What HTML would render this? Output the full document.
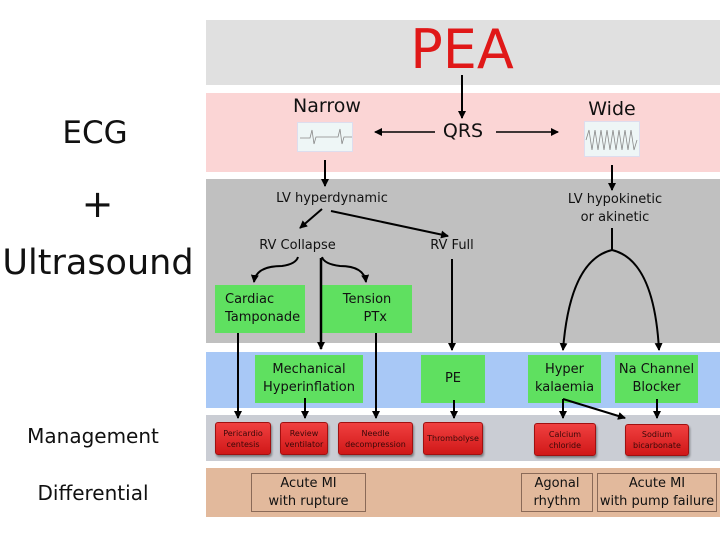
<!DOCTYPE html>
<html><head><meta charset="utf-8"><style>
body{margin:0;width:720px;height:540px;background:#fff;position:relative;overflow:hidden;font-family:"DejaVu Sans","Liberation Sans",sans-serif;}
div{position:absolute;box-sizing:border-box;}
.t{white-space:nowrap;text-align:center;color:#111;}
.g{background:#5fe060;display:flex;align-items:center;justify-content:center;text-align:center;font-size:13px;line-height:18px;color:#111;}
.r{background:linear-gradient(#f04040,#d01818);border:1px solid #a01010;border-radius:3px;box-shadow:1px 2px 2px rgba(0,0,0,.4);display:flex;align-items:center;justify-content:center;text-align:center;font-size:8px;line-height:11px;color:#3a0808;}
.d{border:1px solid #8a6a58;display:flex;align-items:center;justify-content:center;text-align:center;font-size:13px;line-height:18px;color:#111;}
</style></head><body>
<div style="left:206px;top:20px;width:514px;height:65px;background:#e0e0e0"></div>
<div style="left:206px;top:93px;width:514px;height:79px;background:#fbd5d5"></div>
<div style="left:206px;top:179px;width:514px;height:164px;background:#c0c0c0"></div>
<div style="left:206px;top:352px;width:514px;height:56px;background:#a8c8f6"></div>
<div style="left:206px;top:415px;width:514px;height:46px;background:#cacdd4"></div>
<div style="left:206px;top:468px;width:514px;height:49px;background:#e2b99c"></div>

<div class="t" style="left:396px;top:18px;width:132px;font-size:54px;color:#e01818;line-height:64px">PEA</div>
<div class="t" style="left:20px;top:113px;width:150px;font-size:31px;line-height:40px">ECG</div>
<div class="t" style="left:60px;top:182px;width:75px;font-size:38px;line-height:44px">+</div>
<div class="t" style="left:0px;top:241px;width:196px;font-size:35px;line-height:44px">Ultrasound</div>
<div class="t" style="left:18px;top:424px;width:150px;font-size:20px;line-height:24px">Management</div>
<div class="t" style="left:18px;top:481px;width:150px;font-size:20px;line-height:24px">Differential</div>

<div class="t" style="left:280px;top:95px;width:94px;font-size:19px">Narrow</div>
<div class="t" style="left:570px;top:98px;width:84px;font-size:19px">Wide</div>
<div class="t" style="left:430px;top:120px;width:66px;font-size:19px">QRS</div>
<div style="left:297px;top:122px;width:56px;height:30px;background:#eef6f6;border:1px solid #dde"></div>
<div style="left:584px;top:121px;width:56px;height:36px;background:#eef6f6;border:1px solid #dde"></div>

<div class="t" style="left:262px;top:191px;width:140px;font-size:13px">LV hyperdynamic</div>
<div class="t" style="left:550px;top:191px;width:130px;font-size:13px;line-height:18px">LV hypokinetic<br>or akinetic</div>
<div class="t" style="left:245px;top:238px;width:105px;font-size:13px">RV Collapse</div>
<div class="t" style="left:418px;top:238px;width:68px;font-size:13px">RV Full</div>

<div class="g" style="left:215px;top:285px;width:90px;height:48px;justify-content:flex-start;padding-left:10px;text-align:left">Cardiac<br>Tamponade</div>
<div class="g" style="left:322px;top:285px;width:90px;height:48px">Tension<br>&nbsp;&nbsp;&nbsp;&nbsp;PTx</div>
<div class="g" style="left:255px;top:355px;width:108px;height:48px">Mechanical<br>Hyperinflation</div>
<div class="g" style="left:421px;top:355px;width:64px;height:48px">PE</div>
<div class="g" style="left:528px;top:355px;width:73px;height:48px">Hyper<br>kalaemia</div>
<div class="g" style="left:615px;top:355px;width:83px;height:48px">Na Channel<br>Blocker</div>

<div class="r" style="left:215px;top:422px;width:56px;height:33px">Pericardio<br>centesis</div>
<div class="r" style="left:280px;top:422px;width:48px;height:33px">Review<br>ventilator</div>
<div class="r" style="left:338px;top:422px;width:75px;height:33px">Needle<br>decompression</div>
<div class="r" style="left:423px;top:422px;width:60px;height:33px">Thrombolyse</div>
<div class="r" style="left:534px;top:423px;width:62px;height:33px">Calcium<br>chloride</div>
<div class="r" style="left:625px;top:424px;width:64px;height:32px">Sodium<br>bicarbonate</div>

<div class="d" style="left:251px;top:473px;width:115px;height:39px">Acute MI<br>with rupture</div>
<div class="d" style="left:521px;top:473px;width:72px;height:39px">Agonal<br>rhythm</div>
<div class="d" style="left:597px;top:473px;width:120px;height:39px">Acute MI<br>with pump failure</div>

<svg width="720" height="540" style="position:absolute;left:0;top:0" fill="none" stroke="#000" stroke-width="2">
<defs><marker id="a" markerWidth="8" markerHeight="8" refX="7" refY="4" orient="auto" markerUnits="userSpaceOnUse"><path d="M0,0 L8,4 L0,8z" fill="#000" stroke="none"/></marker></defs>
<path d="M300,138 H310 L312,130 L314,144 L316,137 H338 L340,129 L342,144 L344,137 H352" stroke="#888" stroke-width="0.8"/>
<path d="M586,140 l3,-10 l3,20 l3,-20 l3,20 l3,-20 l3,20 l3,-20 l3,20 l3,-20 l3,20 l3,-20 l3,20 l3,-20 l3,20 l3,-20 l3,20 l3,-10" stroke="#888" stroke-width="0.8"/>
<path d="M462,75 V118" marker-end="url(#a)"/>
<path d="M435,132 H375" stroke-width="1.5" marker-end="url(#a)"/>
<path d="M496,132 H558" stroke-width="1.5" marker-end="url(#a)"/>
<path d="M325,160 V186" marker-end="url(#a)"/>
<path d="M612,165 V190" marker-end="url(#a)"/>
<path d="M322,209 L300,228" marker-end="url(#a)"/>
<path d="M331,211 L448,236" marker-end="url(#a)"/>
<path d="M298,257 Q296,264 282,266 Q256,266 254,282" marker-end="url(#a)"/>
<path d="M321,258 V349" stroke-width="2.5" marker-end="url(#a)"/>
<path d="M322,257 Q324,264 340,266 Q364,266 366,282" marker-end="url(#a)"/>
<path d="M452,259 V350" marker-end="url(#a)"/>
<path d="M612,228 V250"/>
<path d="M612,250 Q570,260 563,350" marker-end="url(#a)"/>
<path d="M612,250 Q654,260 659,350" marker-end="url(#a)"/>
<path d="M238,333 V418" marker-end="url(#a)"/>
<path d="M376,333 V418" marker-end="url(#a)"/>
<path d="M305,398 V418" marker-end="url(#a)"/>
<path d="M454,400 V418" marker-end="url(#a)"/>
<path d="M563,399 V418" marker-end="url(#a)"/>
<path d="M563,399 L625,418" marker-end="url(#a)"/>
<path d="M657,399 V418" marker-end="url(#a)"/>
</svg>
</body></html>
